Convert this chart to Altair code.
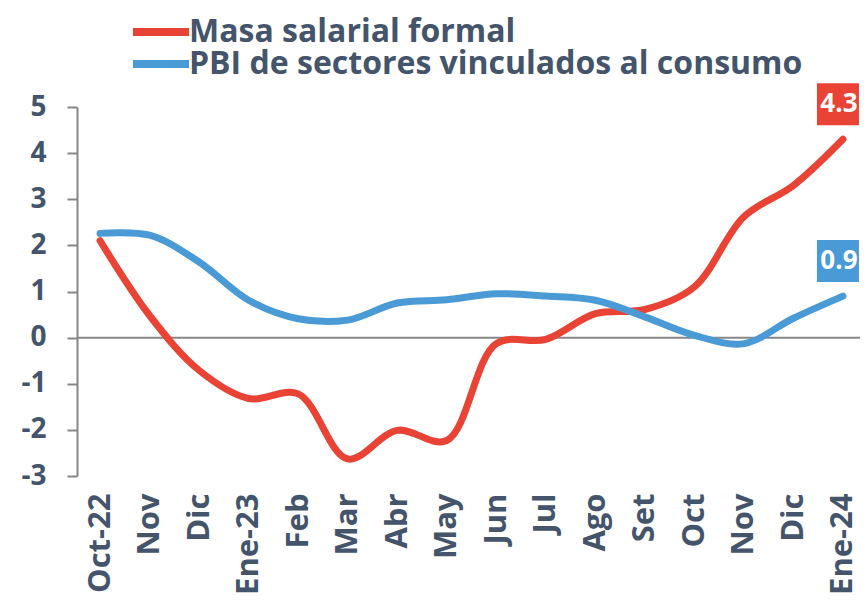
import altair as alt
import pandas as pd

months = ["Oct-22", "Nov", "Dic", "Ene-23", "Feb", "Mar", "Abr", "May",
          "Jun", "Jul", "Ago", "Set", "Oct", "Nov ", "Dic ", "Ene-24"]
masa = [2.10, 0.48, -0.71, -1.32, -1.22, -2.63, -2.01, -2.23,
        -0.13, -0.04, 0.52, 0.61, 1.10, 2.62, 3.30, 4.3]
pbi = [2.26, 2.22, 1.64, 0.81, 0.41, 0.38, 0.75, 0.82,
       0.95, 0.90, 0.81, 0.45, 0.05, -0.13, 0.42, 0.9]
series = ["Masa salarial formal", "PBI de sectores vinculados al consumo"]
colors = ["#e84335", "#4a9ad6"]
end_labels = ["4.3", "0.9"]
y_ticks = [-3, -2, -1, 0, 1, 2, 3, 4, 5]

rows = []
for i, m in enumerate(months):
    rows.append({"mes": m, "serie": series[0], "valor": masa[i], "orden": i})
    rows.append({"mes": m, "serie": series[1], "valor": pbi[i], "orden": i})
df = pd.DataFrame(rows)

ends = pd.DataFrame({
    "mes": [months[-1], months[-1]],
    "serie": series,
    "valor": [masa[-1], pbi[-1]],
    "txt": end_labels,
})

TXT = "#44546a"
GRAY = "#878787"
FONT = "Open Sans"

x = alt.X("mes:N", sort=months, title=None,
          scale=alt.Scale(type="point", padding=0.405, align=0.575),
          axis=alt.Axis(labelAngle=-90, labelFontSize=31, labelFont=FONT,
                        labelFontWeight="bold", labelColor=TXT, domain=False,
                        ticks=False, labelPadding=17,
                        labelExpr="trim(datum.label)"))
y = alt.Y("valor:Q", title=None,
          scale=alt.Scale(domain=[-3, 5], nice=False, zero=False),
          axis=alt.Axis(values=y_ticks, grid=False, domainColor=GRAY,
                        domainWidth=2, tickColor=GRAY, tickWidth=2, tickSize=10,
                        labelFontSize=28, labelFont=FONT,
                        labelFontWeight="bold", labelColor=TXT, labelPadding=21,
                        labelExpr="'' + datum.value"))
legend_path = "M-2.55,0L2.55,0"
color = alt.Color("serie:N", title=None,
                  scale=alt.Scale(domain=series, range=colors),
                  legend=alt.Legend(orient="none", legendX=68, legendY=-91,
                                    symbolType=legend_path, symbolSize=484,
                                    symbolStrokeWidth=8, labelFontSize=32,
                                    labelFont=FONT,
                                    labelFontWeight="bold", labelColor=TXT,
                                    labelOffset=12, rowPadding=0, padding=0,
                                    labelLimit=700))

zero = alt.Chart(pd.DataFrame({"v": [0]})).mark_rule(color=GRAY, strokeWidth=2).encode(
    y=alt.Y("v:Q", scale=alt.Scale(domain=[-3, 5], nice=False, zero=False)))

lines = alt.Chart(df).mark_line(strokeWidth=7, strokeCap="round",
                                interpolate="catmull-rom").encode(
    x=x, y=y, color=color, order="orden:Q")

box_path = "M-1.0,-1L1.0,-1L1.0,1L-1.0,1Z"
boxes = alt.Chart(ends).mark_point(shape=box_path, filled=True, size=1764,
                                   opacity=1, yOffset=-35, xOffset=-5,
                                   strokeWidth=0).encode(
    x=alt.X("mes:N", sort=months), y=alt.Y("valor:Q"),
    color=alt.Color("serie:N", scale=alt.Scale(domain=series, range=colors), legend=None))
texts = alt.Chart(ends).mark_text(color="white", font=FONT, fontWeight="bold",
                                  fontSize=26, yOffset=-35, dx=-4, baseline="middle",
                                  align="center").encode(
    x=alt.X("mes:N", sort=months), y=alt.Y("valor:Q"), text="txt:N")

chart = alt.layer(zero, lines, boxes, texts).properties(
    width=783, height=369,
    autosize=alt.AutoSizeParams(type="none"),
    padding={"left": 69, "top": 99, "right": 0, "bottom": 118},
).configure_view(stroke=None)

chart.save("out.html", embed_options={"renderer": "svg", "actions": False})
